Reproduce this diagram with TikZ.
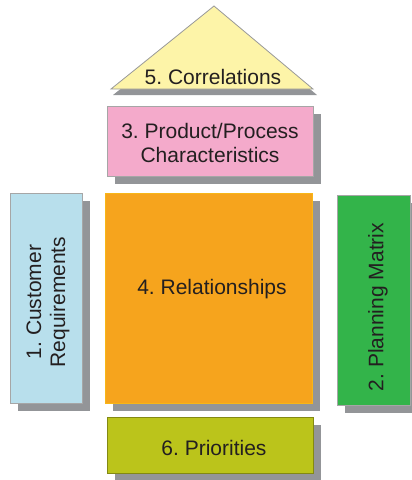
\documentclass[tikz,border=0pt]{standalone}
\usepackage{fontspec}
\setmainfont{Liberation Sans}
\usepackage{xcolor}
\usepackage{tikz}
\usetikzlibrary{shadows}

\definecolor{custblue}{HTML}{B8DFEC}
\definecolor{planGreen}{HTML}{33B44A}
\definecolor{relOrange}{HTML}{F6A41D}
\definecolor{charPink}{HTML}{F4AACB}
\definecolor{prioOlive}{HTML}{BBC41B}
\definecolor{corrYellow}{HTML}{FDF4A8}
\definecolor{shadowgray}{HTML}{939598}
\definecolor{txtgray}{HTML}{231F20}

\begin{document}
\frenchspacing
\begin{tikzpicture}[
    x=1pt,y=-1pt,
    hbox/.style={rectangle,draw=black!35,line width=0.8pt,inner sep=0pt,align=center,
        font=\fontsize{21}{24}\selectfont,text=txtgray,
        drop shadow={shadow xshift=8pt,shadow yshift=-8pt,fill=shadowgray,opacity=1}},
    txt/.style={font=\fontsize{21}{24}\selectfont,text=txtgray,align=center,inner sep=0pt}
]
\useasboundingbox (0,0) rectangle (412,480);

% correlations roof
\fill[shadowgray] (218,12) -- (113,95) -- (317,95) -- cycle;
\filldraw[fill=corrYellow,draw=black!40,line width=0.8pt] (214,6) -- (111,89) -- (313,89) -- cycle;
\node[txt] (corr) at (213,77) {5. Correlations};

\node[hbox,fill=charPink,minimum width=206,minimum height=70] (chars) at (210,141) {};
\node[txt] (charstxt) at (210,143) {3. Product/Process\\Characteristics};

\node[hbox,fill=custblue,minimum width=72,minimum height=210] (cust) at (46,298) {};
\node[txt,rotate=90] (custtxt) at (48,302) {1. Customer\\Requirements};

\node[hbox,fill=relOrange,draw=relOrange!80!yellow,minimum width=207,minimum height=210] (rel) at (208.5,298) {};
\node[txt] (reltxt) at (212,289) {4. Relationships};

\node[hbox,fill=planGreen,minimum width=73,minimum height=210] (plan) at (373.5,300) {};
\node[txt,rotate=90] (plantxt) at (378,307) {2. Planning Matrix};

\node[hbox,fill=prioOlive,draw=prioOlive!70!black,minimum width=206,minimum height=56] (prio) at (210,445) {};
\node[txt] (priotxt) at (214,448) {6. Priorities};
\end{tikzpicture}
\end{document}
